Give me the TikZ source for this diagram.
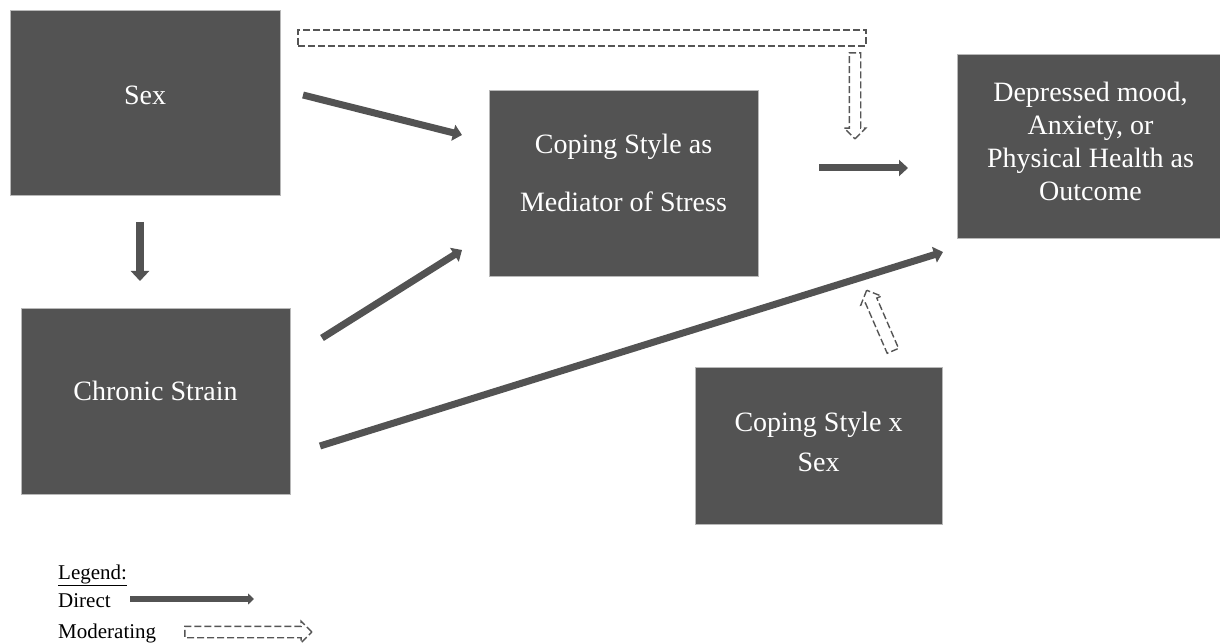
\documentclass[tikz,border=0pt]{standalone}
\usepackage{fontspec}
\setmainfont{Liberation Serif}
\usetikzlibrary{arrows.meta,shapes.arrows}
\definecolor{boxgray}{HTML}{535353}
\definecolor{boxedge}{HTML}{B8B8B8}
\definecolor{dashgray}{HTML}{555555}
\tikzset{
  box/.style={fill=boxgray, draw=boxedge, line width=0.6pt, inner sep=0pt, rectangle},
  txt/.style={text=white, align=center, inner sep=0pt, font=\fontsize{28}{33}\selectfont},
  direct/.style={draw=boxgray, line width=7pt, -{Triangle[length=9pt,width=16pt]}},
  modarrow/.style={single arrow, draw=dashgray, line width=1.4pt, dash pattern=on 7pt off 3pt,
    inner xsep=0pt, single arrow head indent=0pt},
  legtxt/.style={anchor=base west, inner sep=0pt, font=\fontsize{21}{24}\selectfont}
}
\begin{document}
\begin{tikzpicture}[x=1pt,y=1pt]
\path[use as bounding box] (0,0) rectangle (1220,-644);

% boxes
\node[box, minimum width=270, minimum height=185] (sex) at (145,-102.5) {};
\node[box, minimum width=269, minimum height=186] (med) at (623.5,-183) {};
\node[box, minimum width=263, minimum height=184] (out) at (1088.5,-146) {};
\node[box, minimum width=269, minimum height=186] (strain) at (155.5,-401) {};
\node[box, minimum width=247, minimum height=157] (inter) at (818.5,-445.5) {};

% box texts
\node[txt] at ([yshift=7.5]sex.center) {Sex};
\node[txt] at ([yshift=10]med.center) {Coping Style as\\[25pt]Mediator of Stress};
\node[txt] at ([xshift=2,yshift=5]out.center) {Depressed mood,\\Anxiety, or\\Physical Health as\\Outcome};
\node[txt] at ([yshift=10]strain.center) {Chronic Strain};
\node[txt] at ([yshift=3.5]inter.center) {Coping Style x\\[7pt]Sex};

% direct arrows
\coordinate (a1s) at (303,-95);   \coordinate (a1e) at (462,-135);
\coordinate (a2s) at (140,-222);  \coordinate (a2e) at (140,-281);
\coordinate (a3s) at (322,-338);  \coordinate (a3e) at (462,-250);
\coordinate (a4s) at (819,-168);  \coordinate (a4e) at (908,-168);
\coordinate (a5s) at (320,-446);  \coordinate (a5e) at (943,-252);
\draw[direct] (a1s) -- (a1e);
\draw[direct, line width=8pt, -{Triangle[length=10pt,width=18pt]}] (a2s) -- (a2e);
\draw[direct] (a3s) -- (a3e);
\draw[direct] (a4s) -- (a4e);
\draw[direct] (a5s) -- (a5e);

% moderating shapes
\node[draw=dashgray, line width=1.4pt, dash pattern=on 7pt off 3pt, rectangle, inner sep=0pt,
      minimum width=568, minimum height=16] (bar) at (582,-38) {};
\node[modarrow, inner ysep=5pt, single arrow head extend=5pt, minimum height=86, rotate=-90]
      (mdown) at (855,-93) {};
\node[modarrow, inner ysep=5.5pt, single arrow head extend=5pt, minimum height=66, rotate=113.4]
      (mup) at (881,-323.4) {};

% legend
\node[legtxt] (leg) at (58,-579) {\underline{Legend:}};
\node[legtxt] (ldir) at (58,-607) {Direct};
\node[legtxt] (lmod) at (58,-638) {Moderating};
\coordinate (ld1) at (130,-599); \coordinate (ld2) at (254,-599);
\draw[draw=boxgray, line width=6pt, -{Triangle[length=6pt,width=11pt]}] (ld1) -- (ld2);
\node[modarrow, inner ysep=5pt, single arrow head extend=5pt, minimum height=127]
      (lmarrow) at (245.5,-632) {};
\end{tikzpicture}
\end{document}
